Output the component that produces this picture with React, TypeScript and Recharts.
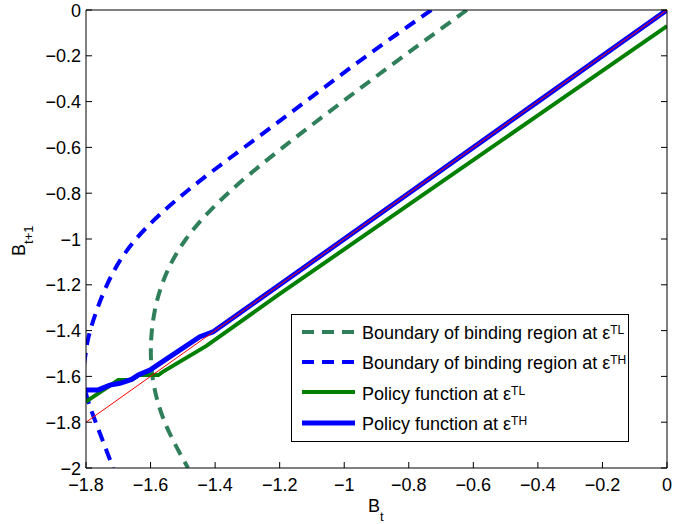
import React from 'react';
import { Legend, Line, LineChart, XAxis, YAxis } from 'recharts';

const FONT = '"Liberation Sans", Arial, Helvetica, sans-serif';

const xTicks = [-1.8, -1.6, -1.4, -1.2, -1, -0.8, -0.6, -0.4, -0.2, 0];
const yTicks = [-2, -1.8, -1.6, -1.4, -1.2, -1, -0.8, -0.6, -0.4, -0.2, 0];

// legend order, as in the figure
const seriesNames = [
  'Boundary of binding region at ε|TL',
  'Boundary of binding region at ε|TH',
  'Policy function at ε|TL',
  'Policy function at ε|TH',
];

// boundary of binding region at eps^TL (green dashed), traced from top to bottom
const boundaryTLx = [-0.62, -0.815, -1.005, -1.19, -1.36, -1.49, -1.565, -1.596, -1.594, -1.556, -1.484];
const boundaryTLy = [0, -0.2, -0.4, -0.6, -0.8, -1.0, -1.2, -1.4, -1.6, -1.8, -2.0];

// boundary of binding region at eps^TH (blue dashed)
const boundaryTHx = [-0.73, -0.93, -1.12, -1.31, -1.495, -1.645, -1.735, -1.787, -1.801, -1.808, -1.795, -1.77, -1.716];
const boundaryTHy = [0, -0.2, -0.4, -0.6, -0.8, -1.0, -1.2, -1.4, -1.5, -1.6, -1.7, -1.8, -2.0];

// policy function at eps^TL (green solid)
const policyTLx = [-1.8, -1.7, -1.659, -1.638, -1.576, -1.561, -1.427, -1.2, -0.8, -0.4, 0];
const policyTLy = [-1.71, -1.616, -1.616, -1.594, -1.594, -1.579, -1.467, -1.24, -0.85, -0.46, -0.07];

// policy function at eps^TH (blue solid)
const policyTHx = [-1.8, -1.762, -1.726, -1.695, -1.659, -1.638, -1.602, -1.571, -1.447, -1.406, -1.2, -0.8, -0.4, 0];
const policyTHy = [-1.659, -1.659, -1.638, -1.63, -1.613, -1.594, -1.572, -1.543, -1.427, -1.405, -1.2, -0.8, -0.4, 0];

// 45 degree line
const diagX = [-1.8, 0];
const diagY = [-1.8, 0];

const toPoints = (xs: number[], ys: number[]) => xs.map((x, i) => ({ x, y: ys[i] }));

const fmt = (v: number) => (v < 0 ? '\u2212' + String(Math.abs(v)) : String(v));

const BottomTick = (props: any) => {
  const { x, y, payload } = props;
  return (
    <g>
      <line x1={x} y1={y} x2={x} y2={y - 6} stroke="#000" />
      <text x={x} y={y + 23} textAnchor="middle" fontSize={18} fontFamily={FONT} fill="#000">
        {fmt(payload.value)}
      </text>
    </g>
  );
};

const TopTick = (props: any) => {
  const { x, y } = props;
  return <line x1={x} y1={y} x2={x} y2={y + 6} stroke="#000" />;
};

const LeftTick = (props: any) => {
  const { x, y, payload } = props;
  return (
    <g>
      <line x1={x} y1={y} x2={x + 6} y2={y} stroke="#000" />
      <text x={x - 5} y={y + 6.5} textAnchor="end" fontSize={18} fontFamily={FONT} fill="#000">
        {fmt(payload.value)}
      </text>
    </g>
  );
};

const RightTick = (props: any) => {
  const { x, y } = props;
  return <line x1={x} y1={y} x2={x - 6} y2={y} stroke="#000" />;
};

const xTitle = () => (
  <text x={368} y={512} fontSize={18} fontFamily={FONT} fill="#000">
    B
    <tspan dy={9} fontSize={13}>
      t
    </tspan>
  </text>
);

const yTitle = () => (
  <text transform="translate(25,256) rotate(-90)" fontSize={18} fontFamily={FONT} fill="#000">
    B
    <tspan dy={8} fontSize={13}>
      t+1
    </tspan>
  </text>
);

const renderLegend = (props: any) => {
  const payload = (props.payload || [])
    .filter((e: any) => seriesNames.indexOf(String(e.value)) >= 0)
    .sort((a: any, b: any) => seriesNames.indexOf(String(a.value)) - seriesNames.indexOf(String(b.value)));
  return (
    <div
      style={{
        boxSizing: 'border-box',
        width: 338,
        height: 128,
        border: '1px solid #000',
        background: '#fff',
        paddingTop: 3,
        paddingLeft: 10,
        fontFamily: FONT,
        fontSize: 18,
        color: '#000',
      }}
    >
      {payload.map((entry: any, i: number) => {
        const [label, sup] = String(entry.value).split('|');
        const p = entry.payload || {};
        return (
          <div key={i} style={{ display: 'flex', alignItems: 'center', height: 30.3 }}>
            <svg width={53} height={10} style={{ marginTop: -3 }}>
              <line
                x1={0}
                y1={5}
                x2={53}
                y2={5}
                stroke={entry.color}
                strokeWidth={p.strokeWidth || 4}
                strokeDasharray={p.strokeDasharray}
              />
            </svg>
            <span style={{ marginLeft: 7, whiteSpace: 'nowrap', lineHeight: 1 }}>
              {label}
              <span style={{ fontSize: 12, position: 'relative', top: -5 }}>{sup}</span>
            </span>
          </div>
        );
      })}
    </div>
  );
};

export default function App() {
  return (
    <div style={{ position: 'absolute', left: 0, top: 0, background: '#fff' }}>
      <LineChart width={673} height={524} margin={{ top: 6, right: 2, bottom: 26, left: 26 }}>
        <XAxis
          type="number"
          dataKey="x"
          domain={[-1.8, 0]}
          ticks={xTicks}
          allowDataOverflow
          interval={0}
          height={30}
          tickSize={0}
          tickMargin={0}
          tickLine={false}
          tick={BottomTick}
          axisLine={{ stroke: '#000' }}
          label={{ content: xTitle }}
        />
        <XAxis
          xAxisId="top"
          orientation="top"
          type="number"
          domain={[-1.8, 0]}
          ticks={xTicks}
          allowDataOverflow
          interval={0}
          height={4}
          tickSize={0}
          tickMargin={0}
          tickLine={false}
          tick={TopTick}
          axisLine={{ stroke: '#000' }}
        />
        <YAxis
          type="number"
          domain={[-2, 0]}
          ticks={yTicks}
          allowDataOverflow
          interval={0}
          width={60}
          tickSize={0}
          tickMargin={0}
          tickLine={false}
          tick={LeftTick}
          axisLine={{ stroke: '#000' }}
          label={{ content: yTitle }}
        />
        <YAxis
          yAxisId="right"
          orientation="right"
          type="number"
          domain={[-2, 0]}
          ticks={yTicks}
          allowDataOverflow
          interval={0}
          width={4}
          tickSize={0}
          tickMargin={0}
          tickLine={false}
          tick={RightTick}
          axisLine={{ stroke: '#000' }}
        />
        <Legend
          layout="vertical"
          align="center"
          verticalAlign="middle"
          content={renderLegend}
          wrapperStyle={{ left: 291, top: 314, width: 338, height: 128 }}
        />
        <Line
          data={toPoints(boundaryTLx, boundaryTLy)}
          dataKey="y"
          type="natural"
          name={seriesNames[0]}
          stroke="#2F7F5A"
          strokeWidth={4}
          strokeDasharray="12 8"
          dot={false}
          activeDot={false}
          isAnimationActive={false}
        />
        <Line
          data={toPoints(boundaryTHx, boundaryTHy)}
          dataKey="y"
          type="natural"
          name={seriesNames[1]}
          stroke="#0000FF"
          strokeWidth={4}
          strokeDasharray="12 8"
          dot={false}
          activeDot={false}
          isAnimationActive={false}
        />
        <Line
          data={toPoints(policyTLx, policyTLy)}
          dataKey="y"
          type="linear"
          name={seriesNames[2]}
          stroke="#008000"
          strokeWidth={4}
          dot={false}
          activeDot={false}
          isAnimationActive={false}
        />
        <Line
          data={toPoints(policyTHx, policyTHy)}
          dataKey="y"
          type="linear"
          name={seriesNames[3]}
          stroke="#0000FF"
          strokeWidth={5}
          dot={false}
          activeDot={false}
          isAnimationActive={false}
        />
        <Line
          data={toPoints(diagX, diagY)}
          dataKey="y"
          type="linear"
          name="45 degree line"
          legendType="none"
          stroke="#FF0000"
          strokeWidth={1}
          dot={false}
          activeDot={false}
          isAnimationActive={false}
        />
      </LineChart>
    </div>
  );
}
